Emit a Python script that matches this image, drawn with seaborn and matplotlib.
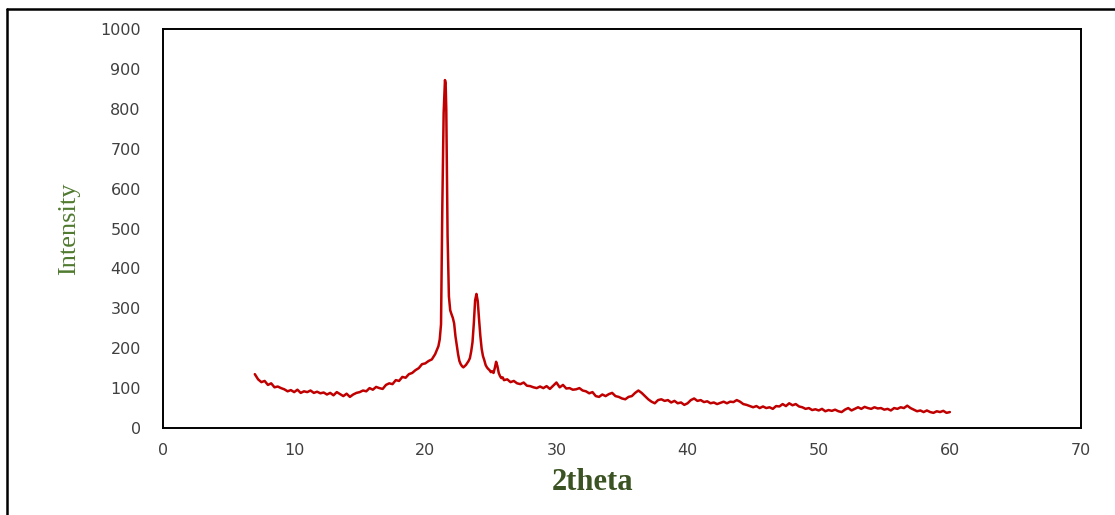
import matplotlib
matplotlib.use("Agg")
import matplotlib.pyplot as plt
from matplotlib.lines import Line2D
import seaborn as sns
import pandas as pd

# XRD pattern
two_theta = [
    7.00, 7.25, 7.50, 7.75, 8.00, 8.25, 8.50, 8.75, 9.00, 9.25, 9.50, 9.75,
    10.00, 10.25, 10.50, 10.75, 11.00, 11.25, 11.50, 11.75, 12.00, 12.25, 12.50, 12.75,
    13.00, 13.25, 13.50, 13.75, 14.00, 14.25, 14.50, 14.75, 15.00, 15.25, 15.50, 15.75,
    16.00, 16.25, 16.50, 16.75, 17.00, 17.25, 17.50, 17.75, 18.00, 18.25, 18.50, 18.75,
    19.00, 19.25, 19.50, 19.75, 20.00, 20.25, 20.50, 20.75,
    21.00, 21.10, 21.20, 21.30, 21.40, 21.50, 21.55, 21.60, 21.70, 21.80, 21.90,
    22.00, 22.10, 22.20, 22.30, 22.40, 22.50, 22.60, 22.70, 22.80, 22.90,
    23.00, 23.10, 23.20, 23.30, 23.40, 23.50, 23.60, 23.70, 23.80, 23.90,
    24.00, 24.10, 24.20, 24.30, 24.40, 24.50, 24.60, 24.70, 24.80, 24.90,
    25.00, 25.10, 25.20, 25.30, 25.40, 25.50, 25.60, 25.70, 25.80, 25.90,
    26.00, 26.25, 26.50, 26.75, 27.00, 27.25, 27.50, 27.75, 28.00, 28.25, 28.50, 28.75,
    29.00, 29.25, 29.50, 29.75, 30.00, 30.25, 30.50, 30.75, 31.00, 31.25, 31.50, 31.75,
    32.00, 32.25, 32.50, 32.75, 33.00, 33.25, 33.50, 33.75, 34.00, 34.25, 34.50, 34.75,
    35.00, 35.25, 35.50, 35.75, 36.00, 36.25, 36.50, 36.75, 37.00, 37.25, 37.50, 37.75,
    38.00, 38.25, 38.50, 38.75, 39.00, 39.25, 39.50, 39.75, 40.00, 40.25, 40.50, 40.75,
    41.00, 41.25, 41.50, 41.75, 42.00, 42.25, 42.50, 42.75, 43.00, 43.25, 43.50, 43.75,
    44.00, 44.25, 44.50, 44.75, 45.00, 45.25, 45.50, 45.75, 46.00, 46.25, 46.50, 46.75,
    47.00, 47.25, 47.50, 47.75, 48.00, 48.25, 48.50, 48.75, 49.00, 49.25, 49.50, 49.75,
    50.00, 50.25, 50.50, 50.75, 51.00, 51.25, 51.50, 51.75, 52.00, 52.25, 52.50, 52.75,
    53.00, 53.25, 53.50, 53.75, 54.00, 54.25, 54.50, 54.75, 55.00, 55.25, 55.50, 55.75,
    56.00, 56.25, 56.50, 56.75, 57.00, 57.25, 57.50, 57.75, 58.00, 58.25, 58.50, 58.75,
    59.00, 59.25, 59.50, 59.75, 60.00,
]
intensity = [
    135, 122, 115, 118, 108, 112, 102, 104, 100, 97, 92, 95,
    90, 96, 88, 92, 90, 94, 88, 91, 87, 89, 84, 88,
    82, 90, 85, 80, 86, 78, 84, 88, 90, 94, 92, 100,
    96, 103, 100, 98, 108, 112, 110, 120, 118, 128, 126, 135,
    138, 145, 150, 160, 162, 168, 172, 185,
    205, 222, 260, 560, 790, 872, 865, 800, 480, 330, 295,
    285, 276, 262, 230, 208, 185, 168, 160, 155, 152,
    155, 158, 163, 168, 175, 192, 215, 262, 320, 336,
    318, 272, 230, 198, 180, 170, 158, 152, 148, 145,
    140, 142, 138, 150, 166, 155, 138, 130, 125, 127,
    120, 122, 115, 118, 112, 110, 114, 106, 105, 102, 100, 104,
    100, 105, 98, 106, 114, 102, 108, 99, 100, 96, 97, 100,
    94, 92, 87, 90, 80, 78, 84, 80, 85, 88, 80, 78,
    74, 72, 78, 80, 88, 94, 88, 80, 72, 66, 62, 70,
    72, 68, 70, 64, 68, 62, 64, 58, 62, 70, 74, 68,
    70, 65, 67, 62, 64, 60, 63, 66, 62, 66, 65, 70,
    66, 60, 58, 55, 52, 55, 50, 54, 50, 52, 48, 55,
    54, 60, 55, 62, 57, 60, 54, 52, 48, 50, 45, 47,
    44, 48, 42, 45, 43, 46, 42, 40, 46, 50, 44, 48,
    52, 48, 53, 50, 48, 52, 49, 50, 46, 48, 44, 50,
    48, 52, 50, 56, 50, 46, 42, 44, 40, 44, 40, 38,
    42, 40, 43, 38, 40,
]

x_ticks = [0, 10, 20, 30, 40, 50, 60, 70]
y_ticks = [0, 100, 200, 300, 400, 500, 600, 700, 800, 900, 1000]

df = pd.DataFrame({"2theta": two_theta, "Intensity": intensity})

sns.set_theme(style="white")
plt.rcParams["font.family"] = ["DejaVu Sans"]

fig = plt.figure(figsize=(11.15, 5.15), dpi=100)
ax = fig.add_axes([0.1462, 0.1689, 0.8233, 0.7748])

sns.lineplot(data=df, x="2theta", y="Intensity", ax=ax, color="#C00000",
             linewidth=1.8, estimator=None, sort=False)

ax.set_xlim(0, 70)
ax.set_ylim(0, 1000)
ax.set_xticks(x_ticks)
ax.set_yticks(y_ticks)
ax.tick_params(axis="both", direction="out", width=1.2, color="black",
               labelsize=11.5, labelcolor="#404040")
ax.tick_params(axis="y", length=6, pad=10)
ax.tick_params(axis="x", length=4, pad=7)

for side in ["left", "right", "top", "bottom"]:
    ax.spines[side].set_visible(True)
    ax.spines[side].set_color("black")
    ax.spines[side].set_linewidth(1.4)

ax.set_xlabel("2theta", family=["Liberation Serif", "DejaVu Serif"], fontsize=22,
              fontweight="bold", color="#3B5323")
ax.xaxis.set_label_coords(0.468, -0.1)
ax.set_ylabel("Intensity", family=["Liberation Serif", "DejaVu Serif"], fontsize=19,
              color="#4F7A2E")
ax.yaxis.set_label_coords(-0.09, 0.5)

# outer frame lines (left and top) seen on the picture
fig.add_artist(Line2D([0.0063, 0.0063], [0.0, 0.982], transform=fig.transFigure,
                      color="black", linewidth=1.8))
fig.add_artist(Line2D([0.0063, 1.0], [0.982, 0.982], transform=fig.transFigure,
                      color="black", linewidth=1.8))

fig.savefig("out.png", dpi=100)
